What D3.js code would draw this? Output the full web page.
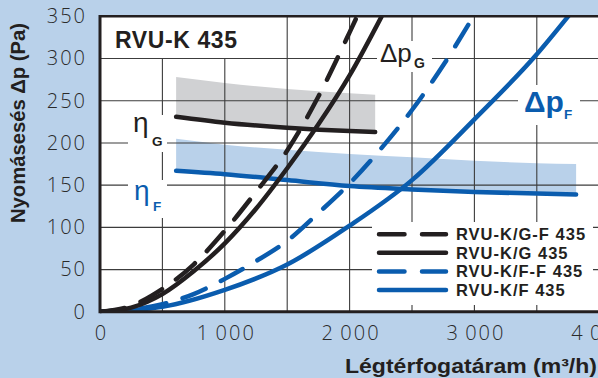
<!DOCTYPE html>
<html>
<head>
<meta charset="utf-8">
<script src="https://cdn.jsdelivr.net/npm/d3@7"></script>
<style>
body { margin: 0; }
svg { display: block; }
</style>
</head>
<body>
<script>
// axis ticks
const xTicks = [0, 1000, 2000, 3000, 4000];
const xTickLabels = ["0", "1\u2009000", "2\u2009000", "3\u2009000", "4\u2009000"];
const xGrid = [500, 1000, 1500, 2000, 2500, 3000, 3500];
const yTicks = [0, 50, 100, 150, 200, 250, 300, 350];
const yGrid = [50, 100, 150, 200, 250, 300];

// pressure drop curves, [air flow m3/h, Pa]
const dpGF = [[0, 0], [250, 7], [500, 27], [750, 56], [1000, 96], [1250, 142], [1500, 191], [1750, 255], [2000, 331], [2060, 350]];
const dpG = [[0, 0], [250, 5], [500, 21], [750, 48], [1000, 81], [1250, 122], [1500, 170], [1750, 222], [2000, 280], [2257, 350]];
const dpFF = [[0, 0], [500, 9], [750, 21], [1000, 39], [1250, 60], [1500, 84], [1750, 117], [2000, 152], [2250, 193], [2500, 239], [2750, 292], [2992, 350]];
const dpF = [[0, 0], [500, 6], [1000, 26], [1500, 56], [2000, 102], [2500, 156], [3000, 228], [3500, 305], [3752, 350]];

// efficiency curves and their bands (same units as the pressure axis)
const etaGQ = [610, 1000, 1500, 2000, 2205];
const etaG = [231, 224, 218, 214, 213];
const etaGMax = [278, 271, 264, 259, 257];
const etaFQ = [610, 1000, 1500, 2000, 2500, 3000, 3500, 3815];
const etaF = [167, 163, 156, 149, 145, 142, 140, 139];
const etaFMax = [205, 198, 192, 187, 183, 179, 176, 175];

// legend
const legendNames = ["RVU-K/G-F 435", "RVU-K/G 435", "RVU-K/F-F 435", "RVU-K/F 435"];

const width = 598, height = 378;
const black = "#231f20", blue = "#0a5cae", bg = "#b9d1ea";
const boldFont = "'Liberation Sans', Arial, sans-serif";

const svg = d3.select("body")
    .append("svg")
    .attr("width", width)
    .attr("height", height);

svg.append("rect").attr("width", width).attr("height", height).attr("fill", bg);

const x = d3.scaleLinear().domain([0, 4000]).range([100, 599.2]);
const y = d3.scaleLinear().domain([0, 350]).range([311.8, 16.3]);

// white plot area
svg.append("rect")
    .attr("x", x(0)).attr("y", y(350))
    .attr("width", width - x(0)).attr("height", y(0) - y(350))
    .attr("fill", "#fff");

svg.append("clipPath").attr("id", "plot")
    .append("rect")
    .attr("x", x(0)).attr("y", y(350))
    .attr("width", width - x(0)).attr("height", y(0) - y(350));

// bands
const band = d3.area()
    .x(d => x(d[0]))
    .y0(d => y(d[1]))
    .y1(d => y(d[2]))
    .curve(d3.curveMonotoneX);

svg.append("path")
    .datum(etaGQ.map((q, i) => [q, etaG[i], etaGMax[i]]))
    .attr("d", band)
    .attr("fill", "#d0d1d3");

svg.append("path")
    .datum(etaFQ.map((q, i) => [q, etaF[i], etaFMax[i]]))
    .attr("d", band)
    .attr("fill", bg);

// grid
const grid = svg.append("g").attr("stroke", "#3c3c3c").attr("stroke-width", 1.1);
grid.selectAll(".vx").data(xGrid).join("line")
    .attr("x1", d => x(d)).attr("x2", d => x(d))
    .attr("y1", y(0)).attr("y2", y(350));
grid.selectAll(".hy").data(yGrid).join("line")
    .attr("x1", x(0)).attr("x2", width)
    .attr("y1", d => y(d)).attr("y2", d => y(d));

// white boxes behind labels, they hide the grid
const boxes = [
    [100, 17, 150, 41],   // title
    [128, 115, 39, 37],   // eta G
    [128, 180, 39, 38],   // eta F
    [377, 41, 55, 31],    // dp G
    [518, 85, 62, 40],    // dp F
    [372, 222, 221, 83]   // legend
];
svg.selectAll(".box").data(boxes).join("rect")
    .attr("x", d => d[0]).attr("y", d => d[1])
    .attr("width", d => d[2]).attr("height", d => d[3])
    .attr("fill", "#fff");

// curves
const line = d3.line()
    .x(d => x(d[0]))
    .y(d => y(d[1]))
    .curve(d3.curveMonotoneX);

const curves = svg.append("g")
    .attr("clip-path", "url(#plot)")
    .attr("fill", "none")
    .attr("stroke-width", 4.5)
    .attr("stroke-linecap", "round");

curves.append("path").datum(etaFQ.map((q, i) => [q, etaF[i]])).attr("d", line).attr("stroke", blue);
curves.append("path").datum(etaGQ.map((q, i) => [q, etaG[i]])).attr("d", line).attr("stroke", black);

curves.append("path").datum(dpF).attr("d", line).attr("stroke", blue);
curves.append("path").datum(dpFF).attr("d", line).attr("stroke", blue).attr("stroke-dasharray", "25,17");
curves.append("path").datum(dpG).attr("d", line).attr("stroke", black);
curves.append("path").datum(dpGF).attr("d", line).attr("stroke", black).attr("stroke-dasharray", "25,17");

// axis lines
svg.append("line").attr("x1", x(0)).attr("x2", width).attr("y1", y(350)).attr("y2", y(350))
    .attr("stroke", black).attr("stroke-width", 2.5);
svg.append("line").attr("x1", x(0)).attr("x2", width).attr("y1", y(0)).attr("y2", y(0))
    .attr("stroke", black).attr("stroke-width", 3);
svg.append("line").attr("x1", x(0)).attr("x2", x(0)).attr("y1", y(350) - 1.2).attr("y2", y(0) + 1.5)
    .attr("stroke", black).attr("stroke-width", 3);

// tick labels
const tickFont = "'Open Sans', 'DejaVu Sans', sans-serif";

const xAxis = svg.append("g")
    .attr("transform", `translate(1,${y(0)})`)
    .call(d3.axisBottom(x).tickValues(xTicks).tickFormat((d, i) => xTickLabels[i]).tickSize(0).tickPadding(14));
const yAxis = svg.append("g")
    .attr("transform", `translate(${x(0) + 2},0)`)
    .call(d3.axisLeft(y).tickValues(yTicks).tickSize(0).tickPadding(15));

[xAxis, yAxis].forEach(g => {
    g.select(".domain").remove();
    g.selectAll("text")
        .attr("fill", "#2a2a2a")
        .style("font-family", tickFont)
        .style("font-weight", 300)
        .style("font-size", "20px")
        .style("letter-spacing", "2px");
});

// axis titles (the original face is wider than Arial, so stretch to the measured length)
svg.append("text")
    .attr("transform", "translate(25,123) rotate(-90)")
    .attr("text-anchor", "middle")
    .attr("fill", black)
    .attr("textLength", 200)
    .attr("lengthAdjust", "spacingAndGlyphs")
    .style("font", `bold 19.5px ${boldFont}`)
    .text("Nyomásesés \u0394p (Pa)");

svg.append("text")
    .attr("x", 597).attr("y", 373)
    .attr("text-anchor", "end")
    .attr("fill", black)
    .attr("textLength", 252)
    .attr("lengthAdjust", "spacingAndGlyphs")
    .style("font", `bold 19.5px ${boldFont}`)
    .text("Légtérfogatáram (m³/h)");

// title
svg.append("text")
    .attr("x", 115).attr("y", 48)
    .attr("fill", black)
    .style("font", `bold 23px ${boldFont}`)
    .style("letter-spacing", "0.6px")
    .text("RVU-K 435");

// curve labels: main symbol + subscript
function label(sx, sy, sym, sub, subX, subY, size, weight, subSize, color) {
    const t = svg.append("g").attr("fill", color).style("font-family", boldFont);
    t.append("text").attr("x", sx).attr("y", sy)
        .style("font-size", size + "px").style("font-weight", weight).text(sym);
    t.append("text").attr("x", subX).attr("y", subY)
        .style("font-size", subSize + "px").style("font-weight", "bold").text(sub);
}
label(133, 132, "\u03b7", "G", 152, 146, 28, "normal", 13.5, black);
label(134, 200, "\u03b7", "F", 153, 211, 28, "normal", 13.5, blue);
label(380, 62, "\u0394p", "G", 414, 68, 26, "normal", 14, black);
label(524, 112, "\u0394p", "F", 564, 119, 30, "bold", 13.5, blue);

// legend
const legendStyle = [
    { color: black, dash: "25.5,17.5" },
    { color: black, dash: null },
    { color: blue, dash: "25.5,17.5" },
    { color: blue, dash: null }
];
const rowY = d3.scalePoint().domain(legendNames).range([234.3, 290]);

const legend = svg.append("g");
legendNames.forEach((name, i) => {
    legend.append("line")
        .attr("x1", 379).attr("x2", 446)
        .attr("y1", rowY(name)).attr("y2", rowY(name))
        .attr("stroke", legendStyle[i].color)
        .attr("stroke-width", 4.5)
        .attr("stroke-linecap", "round")
        .attr("stroke-dasharray", legendStyle[i].dash);
    legend.append("text")
        .attr("x", 456).attr("y", rowY(name) + 6)
        .attr("fill", black)
        .style("font", `bold 16.5px ${boldFont}`)
        .style("letter-spacing", "1px")
        .text(name);
});
</script>
</body>
</html>
